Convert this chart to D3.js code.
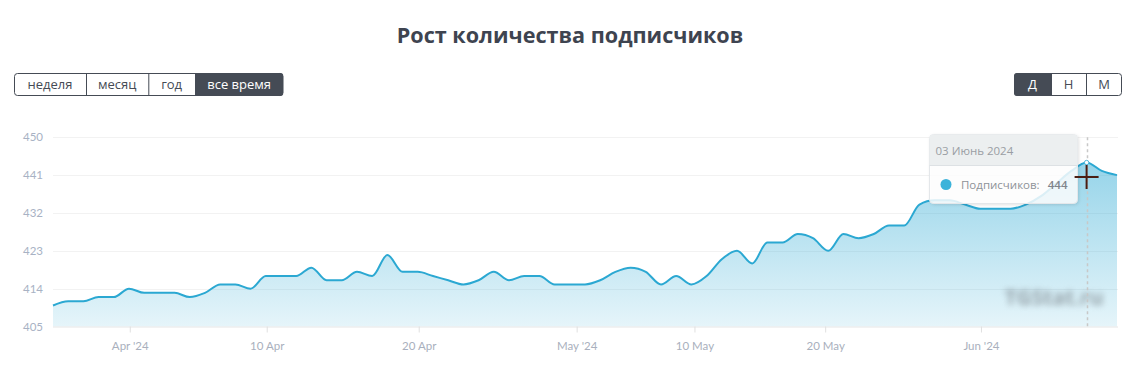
<!DOCTYPE html>
<html><head><meta charset="utf-8">
<script src="https://cdn.jsdelivr.net/npm/d3@7"></script>
<style>
html,body{margin:0;padding:0;background:#fff;}
svg{display:block;}
</style></head>
<body>
<svg id="chart" width="1130" height="379"></svg>
<script>
// ---- data ----
const values = [410,411,411,412,412,414,413,413,413,412,413,415,415,414,417,417,417,419,416,416,
  418,417,422,418,418,417,416,415,416,418,416,417,417,415,415,415,416,418,419,418,
  415,417,415,417,421,423,420,425,425,427,426,423,427,426,427,429,429,434,435,435,
  434,433,433,433,434,436,439,442,444,442,441];
const tickLabels = ["Apr '24","10 Apr","20 Apr","May '24","10 May","20 May","Jun '24"];
const tickIndex = [5.05,14.06,24.06,34.45,42.2,50.8,61.05];
const yTicks = [405,414,423,432,441,450];
const rangeButtons = ["неделя","месяц","год","все время"];
const groupButtons = ["Д","Н","М"];
const title = "Рост количества подписчиков";
const seriesName = "Подписчиков";
const hoverIndex = 68;
const hoverDate = "03 Июнь 2024";

// ---- layout ----
const svg = d3.select("#chart");
const plot = {left:53, right:1117, top:137.3, bottom:326.5};
const x = d3.scaleLinear().domain([0, values.length-1]).range([plot.left, plot.right]);
const y = d3.scaleLinear().domain([405,450]).range([plot.bottom, plot.top]);

const defs = svg.append("defs");
const grad = defs.append("linearGradient").attr("id","areaGrad")
  .attr("gradientUnits","userSpaceOnUse").attr("x1",0).attr("x2",0)
  .attr("y1",plot.top).attr("y2",plot.bottom);
grad.append("stop").attr("offset","0").attr("stop-color","#2aa8d3").attr("stop-opacity",0.55);
grad.append("stop").attr("offset","1").attr("stop-color","#2aa8d3").attr("stop-opacity",0.12);
const blur = defs.append("filter").attr("id","blur").attr("x","-20%").attr("y","-60%").attr("width","140%").attr("height","220%");
blur.append("feGaussianBlur").attr("stdDeviation",3.4);
const shadow = defs.append("filter").attr("id","shadow").attr("x","-10%").attr("y","-10%").attr("width","130%").attr("height","140%");
shadow.append("feDropShadow").attr("dx",1).attr("dy",1).attr("stdDeviation",1.5).attr("flood-color","#000").attr("flood-opacity",0.12);

// title
svg.append("text").attr("x",570).attr("y",43).attr("text-anchor","middle")
  .attr("font-family","'Open Sans', sans-serif").attr("font-weight",700).attr("font-size",21.6)
  .attr("fill","#3e4450").text(title);

// button groups
function buttons(items, x0, widths, activeIdx){
  const g = svg.append("g");
  const total = d3.sum(widths);
  const h = 22, y0 = 73.5;
  g.append("rect").attr("x",x0+0.5).attr("y",y0).attr("width",total-1).attr("height",h)
    .attr("rx",3).attr("fill","#fff").attr("stroke","#454b55").attr("stroke-width",1);
  let cx = x0;
  items.forEach((t,i)=>{
    const w = widths[i];
    if(i===activeIdx){
      const last = i===items.length-1, first = i===0;
      const path = d3.path();
      const r = 3, xa = cx, xb = cx+w, ya = y0-0.5, yb = y0+h+0.5;
      path.moveTo(xa + (first? r:0), ya);
      path.lineTo(xb - (last? r:0), ya);
      if(last) path.quadraticCurveTo(xb,ya,xb,ya+r);
      path.lineTo(xb, yb-(last? r:0));
      if(last) path.quadraticCurveTo(xb,yb,xb-r,yb);
      path.lineTo(xa+(first? r:0), yb);
      if(first) path.quadraticCurveTo(xa,yb,xa,yb-r);
      path.lineTo(xa, ya+(first? r:0));
      if(first) path.quadraticCurveTo(xa,ya,xa+r,ya);
      path.closePath();
      g.append("path").attr("d",path.toString()).attr("fill","#454b55");
    }
    if(i>0) g.append("line").attr("x1",cx+0.5).attr("x2",cx+0.5).attr("y1",y0).attr("y2",y0+h)
      .attr("stroke","#454b55");
    g.append("text").attr("x",cx+w/2).attr("y",y0+h/2+4.5).attr("text-anchor","middle")
      .attr("font-family","'Open Sans', sans-serif").attr("font-size",13)
      .attr("fill", i===activeIdx? "#fff":"#454b55").text(t);
    cx += w;
  });
}
buttons(rangeButtons, 14, [72,62.3,46.7,88.3], 3);
buttons(groupButtons, 1014, [37,35,36], 0);

// grid
const grid = svg.append("g");
yTicks.forEach(v=>{
  if(v===405) return;
  grid.append("line").attr("x1",plot.left).attr("x2",plot.right+1).attr("y1",Math.round(y(v))+0.5).attr("y2",Math.round(y(v))+0.5)
    .attr("stroke","#f2f2f2").attr("stroke-width",1);
});

// area + line
const area = d3.area().x((d,i)=>x(i)).y0(plot.bottom).y1(d=>y(d)).curve(d3.curveMonotoneX);
const line = d3.line().x((d,i)=>x(i)).y(d=>y(d)).curve(d3.curveMonotoneX);
svg.append("path").datum(values).attr("d",area).attr("fill","url(#areaGrad)");
svg.append("path").datum(values).attr("d",line).attr("fill","none").attr("stroke","#2ba8d2").attr("stroke-width",2);

// x axis
const xAxis = d3.axisBottom(x).tickValues(tickIndex).tickFormat((d,i)=>tickLabels[i]).tickSize(6).tickPadding(9);
const xg = svg.append("g").attr("transform",`translate(0,${plot.bottom})`).call(xAxis);
xg.select(".domain").attr("d",`M${plot.left},0.5H${plot.right+1}`).attr("stroke","#e6e6e6");
xg.selectAll(".tick line").attr("stroke","#e0e0e0");
xg.selectAll(".tick text").attr("font-family","Lato, sans-serif").attr("font-size",11.5).attr("fill","#a9b0bd");

// y axis
const yAxis = d3.axisLeft(y).tickValues(yTicks).tickSize(0).tickPadding(0);
const yg = svg.append("g").attr("transform",`translate(43,0)`).call(yAxis);
yg.select(".domain").remove();
yg.selectAll(".tick text").attr("font-family","Lato, sans-serif").attr("font-size",11.5).attr("fill","#a8b2c4");

// watermark (blurred)
svg.append("text").attr("x",1054).attr("y",305).attr("text-anchor","middle")
  .attr("font-family","'Open Sans', sans-serif").attr("font-weight",700).attr("font-size",21)
  .attr("fill","#737b82").attr("opacity",0.65).attr("filter","url(#blur)").text("TGStat.ru");

// crosshair
const hx = x(hoverIndex);
svg.append("line").attr("x1",Math.round(hx)+0.5).attr("x2",Math.round(hx)+0.5).attr("y1",plot.top).attr("y2",plot.bottom)
  .attr("stroke","#c8c8c8").attr("stroke-width",1.5).attr("stroke-dasharray","3,3");
svg.append("circle").attr("cx",hx).attr("cy",y(values[hoverIndex])).attr("r",2.2).attr("fill","#fff").attr("stroke","#2ba8d2").attr("stroke-width",0.8);

// tooltip
const tt = svg.append("g");
const tx = 929.5, ty = 134.5, tw = 148, th = 69;
tt.append("rect").attr("x",tx).attr("y",ty).attr("width",tw).attr("height",th).attr("rx",4)
  .attr("fill","rgba(255,255,255,0.82)").attr("stroke","#e4e7ea").attr("filter","url(#shadow)");
tt.append("path").attr("d",`M${tx+4},${ty}H${tx+tw-4}Q${tx+tw},${ty} ${tx+tw},${ty+4}V${ty+31}H${tx}V${ty+4}Q${tx},${ty} ${tx+4},${ty}Z`)
  .attr("fill","#eceff0");
tt.append("line").attr("x1",tx).attr("x2",tx+tw).attr("y1",ty+31).attr("y2",ty+31).attr("stroke","#dde1e4");
tt.append("text").attr("x",tx+6).attr("y",ty+20).attr("font-family","'Open Sans', sans-serif").attr("font-size",11.5)
  .attr("fill","#9a9ea4").text(hoverDate);
tt.append("circle").attr("cx",tx+16.5).attr("cy",ty+50).attr("r",5.5).attr("fill","#3cb3da");
tt.append("text").attr("x",tx+31.5).attr("y",ty+54).attr("font-family","'Open Sans', sans-serif").attr("font-size",11.5)
  .attr("fill","#8e9298").text(seriesName + ":");
tt.append("text").attr("x",tx+138).attr("y",ty+54).attr("text-anchor","end").attr("font-family","'Open Sans', sans-serif").attr("font-size",11.5)
  .attr("font-weight",600).attr("fill","#80858c").text(values[hoverIndex]);

// mouse cursor (crosshair)
const cy0 = 177;
svg.append("line").attr("x1",hx-12).attr("x2",hx+12).attr("y1",cy0).attr("y2",cy0).attr("stroke","#4a1d12").attr("stroke-width",2);
svg.append("line").attr("x1",hx).attr("x2",hx).attr("y1",cy0-12).attr("y2",cy0+12).attr("stroke","#4a1d12").attr("stroke-width",2);
</script>
</body></html>
